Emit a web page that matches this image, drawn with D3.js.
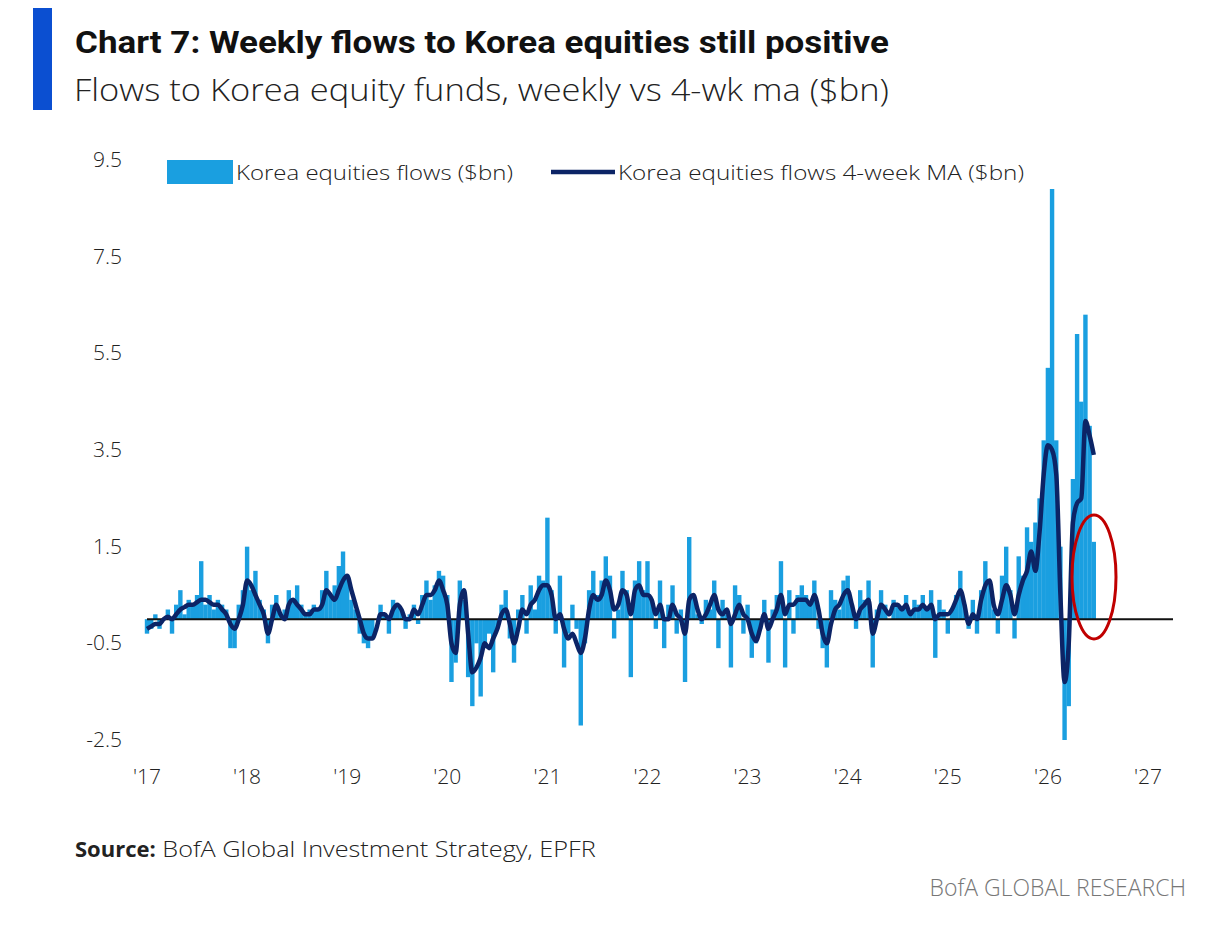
<!DOCTYPE html>
<html><head><meta charset="utf-8">
<script src="https://cdn.jsdelivr.net/npm/d3@7"></script>
<style>body{margin:0;background:#fff;font-family:"Open Sans",Lato,sans-serif}</style>
</head><body>
<script>
// semi-monthly readings, Jan 2017 onward
var years = ["'17","'18","'19","'20","'21","'22","'23","'24","'25","'26","'27"];
var yTicks = [9.5,7.5,5.5,3.5,1.5,-0.5,-2.5];
var flows = [
 -0.3,-0.2,0.1,-0.2,0.0,0.2,-0.3,0.3,0.6,0.1,0.4,0.3,0.5,1.2,0.3,0.5,0.2,0.4,0.3,0.2,-0.6,-0.6,0.3,0.6,
 1.5,0.6,1.0,0.4,0.2,-0.5,0.3,0.5,0.1,0.2,0.6,0.4,0.7,0.3,0.1,0.2,0.3,0.2,0.6,1.0,0.5,0.7,1.1,1.4,
 0.9,0.4,0.2,-0.3,-0.5,-0.6,-0.4,0.0,0.3,0.1,-0.3,0.4,0.3,0.2,-0.2,0.1,0.3,-0.1,0.5,0.8,0.4,0.7,1.0,0.9,
 0.5,-1.3,-0.9,0.8,0.4,-1.2,-1.8,-0.5,-1.6,-0.6,-0.3,-1.1,-0.2,0.3,0.6,-0.4,-0.9,0.2,0.5,-0.3,0.7,0.2,0.9,0.8,
 2.1,0.6,-0.3,0.9,-1.0,-0.3,0.3,-0.2,-2.2,-0.5,0.6,1.0,0.5,0.8,1.3,0.9,-0.4,0.2,1.0,0.6,-1.2,0.8,1.2,0.6,
 1.2,0.4,-0.2,0.8,-0.6,0.3,0.7,-0.3,0.2,-1.3,1.7,0.5,0.1,-0.1,0.4,0.2,0.8,-0.6,0.4,0.1,-1.0,0.7,0.5,-0.3,
 0.3,-0.8,-0.5,-0.2,0.4,-0.9,0.2,0.5,1.2,-1.0,0.6,-0.3,0.5,0.7,0.5,0.3,0.8,-0.2,-0.6,-1.0,0.6,0.4,0.2,0.8,
 0.9,0.3,-0.2,0.6,0.4,0.8,-1.0,0.2,0.6,0.3,0.0,0.4,0.3,0.2,0.5,0.1,0.4,0.3,0.5,0.2,0.6,-0.8,0.4,0.2,
 -0.3,0.2,0.5,1.0,0.3,-0.2,0.4,-0.3,0.6,1.2,0.8,0.2,-0.3,0.9,1.5,0.6,-0.4,1.3,0.9,1.9,1.6,2.0,2.5,3.7,
 5.2,8.9,3.7,1.5,-2.5,-1.8,2.9,5.9,4.5,6.3,4.0,1.6
];
var ma4 = [
 -0.2,-0.15,-0.1,-0.1,0.0,0.05,0.0,0.1,0.2,0.25,0.3,0.3,0.35,0.4,0.4,0.35,0.3,0.3,0.2,0.1,-0.1,-0.2,0.0,0.3,
 0.8,0.7,0.5,0.3,0.1,-0.3,0.0,0.3,0.1,0.0,0.3,0.4,0.3,0.2,0.1,0.1,0.2,0.2,0.3,0.6,0.5,0.4,0.6,0.8,
 0.9,0.6,0.3,0.0,-0.3,-0.4,-0.4,-0.2,0.1,0.1,0.0,0.2,0.3,0.2,0.0,0.0,0.2,0.1,0.3,0.5,0.5,0.6,0.8,0.6,
 0.3,-0.5,-0.7,0.3,0.6,-0.3,-1.1,-1.0,-0.8,-0.5,-0.6,-0.4,-0.2,0.1,0.2,-0.1,-0.5,-0.2,0.2,0.1,0.3,0.4,0.6,0.7,
 0.7,0.5,0.0,0.1,-0.2,-0.4,-0.3,-0.5,-0.7,-0.4,0.2,0.5,0.4,0.5,0.8,0.6,0.2,0.3,0.6,0.5,0.1,0.6,0.7,0.5,
 0.5,0.4,0.1,0.3,0.0,0.0,0.3,0.1,0.0,-0.3,0.4,0.5,0.2,0.0,0.1,0.3,0.5,0.2,0.1,0.2,-0.1,0.1,0.3,0.1,
 0.0,-0.3,-0.45,-0.2,0.1,-0.2,0.0,0.2,0.5,0.1,0.3,0.3,0.4,0.4,0.4,0.3,0.5,0.2,-0.3,-0.5,-0.1,0.2,0.3,0.5,
 0.6,0.3,0.0,0.2,0.3,0.4,-0.3,0.0,0.3,0.2,0.1,0.3,0.3,0.2,0.3,0.1,0.2,0.2,0.3,0.2,0.3,0.0,0.1,0.1,
 0.1,0.2,0.4,0.6,0.3,-0.1,0.1,0.0,0.4,0.7,0.8,0.3,0.1,0.4,0.7,0.5,0.1,0.5,0.8,1.0,1.4,1.0,1.8,3.0,
 3.6,3.5,3.0,0.5,-1.3,-0.5,2.0,2.4,2.5,4.1,3.8,3.4
];

var W = 1206, H = 925;
var svg = d3.select("body").append("svg").attr("width",W).attr("height",H);

svg.append("rect").attr("x",33).attr("y",8).attr("width",19).attr("height",102).attr("fill","#0b4fd1");
svg.append("text").attr("x",75).attr("y",53).attr("font-size",31).attr("font-weight","bold")
  .attr("font-family","Roboto, sans-serif").attr("fill","#111")
  .attr("textLength",814).attr("lengthAdjust","spacingAndGlyphs")
  .text("Chart 7: Weekly flows to Korea equities still positive");
svg.append("text").attr("x",74).attr("y",101).attr("font-size",31).attr("font-weight",300)
  .attr("fill","#222").attr("textLength",815).attr("lengthAdjust","spacingAndGlyphs")
  .text("Flows to Korea equity funds, weekly vs 4-wk ma ($bn)");

var x = d3.scaleLinear().domain([0,10]).range([147,1148]);
var y = d3.scaleLinear().domain([-2.5,9.5]).range([740,160]);
var t = function(i){ return i/24; };

var g = svg.append("g").attr("font-weight",300);
g.selectAll("text.yt").data(yTicks).enter().append("text").attr("class","yt")
  .attr("x",122).attr("y",function(d){return y(d)+7;}).attr("text-anchor","end")
  .attr("font-size",21).attr("fill","#222").text(function(d){return d.toFixed(1);});
g.selectAll("text.xt").data(years).enter().append("text").attr("class","xt")
  .attr("x",function(d,i){return x(i);}).attr("y",784).attr("text-anchor","middle")
  .attr("font-size",21).attr("fill","#222").text(function(d){return d;});

g.selectAll("rect.bar").data(flows).enter().append("rect").attr("class","bar")
  .attr("x",function(d,i){return x(t(i))-2.2;}).attr("width",4.4)
  .attr("y",function(d){return y(Math.max(0,d));})
  .attr("height",function(d){return Math.abs(y(d)-y(0));})
  .attr("fill","#1a9fe0");

g.append("line").attr("x1",147).attr("x2",1173).attr("y1",y(0)).attr("y2",y(0))
  .attr("stroke","#111").attr("stroke-width",2);

g.append("path").datum(ma4)
  .attr("d",d3.line().x(function(d,i){return x(t(i));}).y(function(d){return y(d);}).curve(d3.curveMonotoneX))
  .attr("fill","none").attr("stroke","#0c2466").attr("stroke-width",4.5);

g.append("ellipse").attr("cx",1094).attr("cy",577).attr("rx",22).attr("ry",62)
  .attr("fill","none").attr("stroke","#c00000").attr("stroke-width",3);

// legend
svg.append("rect").attr("x",167).attr("y",160).attr("width",66).attr("height",24).attr("fill","#1a9fe0");
svg.append("text").attr("x",236).attr("y",180).attr("font-size",21).attr("font-weight",300).attr("fill","#222")
  .attr("textLength",277).attr("lengthAdjust","spacingAndGlyphs").text("Korea equities flows ($bn)");
svg.append("line").attr("x1",551).attr("x2",615).attr("y1",172).attr("y2",172).attr("stroke","#0c2466").attr("stroke-width",4.5);
svg.append("text").attr("x",618).attr("y",180).attr("font-size",21).attr("font-weight",300).attr("fill","#222")
  .attr("textLength",406).attr("lengthAdjust","spacingAndGlyphs").text("Korea equities flows 4-week MA ($bn)");

var src = svg.append("text").attr("x",75).attr("y",857).attr("font-size",22).attr("fill","#222");
src.append("tspan").attr("font-weight","bold").text("Source:");
src.append("tspan").attr("font-weight",300).attr("textLength",440).attr("lengthAdjust","spacingAndGlyphs")
  .text(" BofA Global Investment Strategy, EPFR");
svg.append("text").attr("x",1186).attr("y",896).attr("text-anchor","end").attr("font-size",23)
  .attr("font-weight",300).attr("fill","#777").text("BofA GLOBAL RESEARCH");
</script>
</body></html>
